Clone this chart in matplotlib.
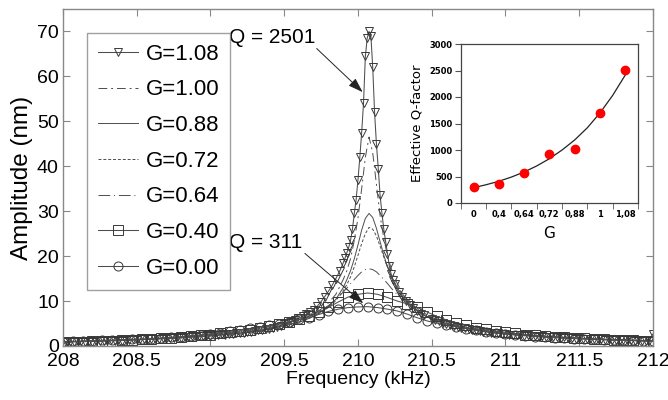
import numpy as np
import matplotlib
matplotlib.use('Agg')
import matplotlib.pyplot as plt
from matplotlib.font_manager import FontProperties

# ---- main chart data (amplitude in nm vs frequency in kHz) ----
# G=1.08 sweep: 0.025 kHz steps in the tails, finer steps around the resonance
f_108 = np.concatenate([np.linspace(208.0, 209.7, 69), np.linspace(209.725, 209.9, 8),
                        np.linspace(209.9125, 210.25, 28), np.linspace(210.275, 210.45, 8),
                        np.linspace(210.5, 212.0, 61)])
amp_108 = [0.3, 0.9, 0.8, 1.0, 0.9, 1.05, 0.95, 1.1, 1.0, 1.15, 1.05, 1.2, 1.1, 1.25, 1.15,
           1.3, 1.2, 1.35, 1.3, 1.45, 1.35, 1.5, 1.45, 1.6, 1.5, 1.65, 1.6, 1.75, 1.65, 1.85,
           1.75, 1.95, 1.85, 2.05, 1.95, 2.15, 2.05, 2.25, 2.2, 2.35,
           2.3, 2.45, 2.4, 2.6, 2.55, 2.7, 2.7, 2.85, 2.85, 3.0, 3.05, 3.2, 3.3, 3.45, 3.55,
           3.75, 3.85, 4.1, 4.25, 4.55, 4.8, 5.1, 5.4, 5.8, 6.2, 6.6, 7.1, 7.6, 8.1,
           8.9, 9.9, 11.0, 12.2, 13.5, 15.0, 16.6, 18.5,
           19.6, 20.8, 22.0, 23.6, 26.0, 29.5, 32.6, 37.0, 42.0, 47.5, 54.0, 64.5, 68.5, 70.0,
           69.0, 62.0, 52.0, 45.0, 39.5, 33.5, 29.5, 26.0, 23.2, 20.5, 17.8, 16.0, 14.7, 13.7,
           12.0, 11.0, 10.1, 9.2, 8.4, 7.8, 7.2, 6.8,
           6.1, 5.8, 5.5, 5.2, 4.9, 4.7, 4.5, 4.3, 4.1, 3.95, 3.8, 3.65, 3.5, 3.35, 3.2, 3.1,
           3.0, 2.9, 2.8, 2.75,
           2.65, 2.55, 2.55, 2.4, 2.45, 2.3, 2.35, 2.2, 2.25, 2.1, 2.15, 2.0, 2.05, 1.9, 1.95,
           1.8, 1.9, 1.75, 1.8, 1.65, 1.75, 1.6, 1.65, 1.5, 1.6, 1.45, 1.5, 1.4, 1.45, 1.35,
           1.4, 1.3, 1.35, 1.25, 1.3, 1.2, 1.25, 1.15, 1.2, 1.1,
           2.7]

# line-only curves share this frequency list
f_line = [208.0, 208.2, 208.4, 208.6, 208.8, 209.0, 209.2, 209.4,
          209.6, 209.65, 209.7, 209.75, 209.8, 209.85, 209.9,
          209.925, 209.95, 209.975, 210.0, 210.025, 210.05, 210.075, 210.1, 210.125,
          210.15, 210.175, 210.2, 210.225, 210.25,
          210.3, 210.35, 210.4, 210.45, 210.5, 210.55, 210.6,
          210.8, 211.0, 211.2, 211.4, 211.6, 211.8, 212.0]
amp_100 = [0.95, 1.1, 1.3, 1.55, 1.85, 2.3, 2.9, 3.8,
           5.6, 6.3, 7.1, 8.2, 9.6, 11.5, 14.8,
           16.8, 19.5, 23.5, 28.5, 35.0, 42.0, 46.5, 43.0, 36.0, 29.0, 24.0, 20.0, 17.3, 15.0,
           11.8, 9.6, 8.0, 6.9, 6.0, 5.4, 4.9,
           3.6, 2.8, 2.2, 1.8, 1.5, 1.3, 1.1]
amp_088 = [0.9, 1.05, 1.25, 1.5, 1.8, 2.2, 2.8, 3.7,
           5.3, 5.9, 6.6, 7.6, 8.8, 10.4, 13.0,
           14.8, 16.8, 19.4, 22.5, 25.8, 28.4, 29.5, 28.6, 26.2, 23.2, 20.2, 17.6, 15.5, 13.8,
           11.2, 9.3, 7.9, 6.8, 6.0, 5.4, 4.9,
           3.6, 2.8, 2.2, 1.8, 1.5, 1.25, 1.05]
amp_072 = [0.95, 1.1, 1.3, 1.55, 1.85, 2.3, 2.9, 3.8,
           5.3, 5.9, 6.6, 7.5, 8.6, 10.1, 12.3,
           13.7, 15.4, 17.6, 20.2, 22.8, 25.0, 26.4, 26.0, 24.5, 22.2, 19.8, 17.6, 15.7, 14.1,
           11.6, 9.8, 8.4, 7.3, 6.4, 5.7, 5.1,
           3.7, 2.9, 2.3, 1.9, 1.55, 1.3, 1.1]
amp_064 = [0.95, 1.1, 1.3, 1.55, 1.9, 2.4, 3.1, 4.1,
           5.8, 6.4, 7.1, 8.0, 9.0, 10.4, 12.0,
           12.9, 13.9, 14.8, 15.7, 16.5, 17.0, 17.2, 17.0, 16.5, 15.7, 14.8, 13.9, 12.9, 12.0,
           10.4, 9.05, 8.0, 7.1, 6.4, 5.8, 5.3,
           3.8, 2.9, 2.3, 1.9, 1.55, 1.3, 1.1]

# G=0.40 and G=0.00 sweeps (61 points, 208 to 212 kHz)
f_sweep = np.linspace(208.0, 212.0, 61)
amp_040 = [0.9, 0.95, 1.0, 1.05, 1.15, 1.2, 1.3, 1.35, 1.45, 1.55,
           1.7, 1.8, 1.95, 2.15, 2.35, 2.55, 2.8, 3.05, 3.3, 3.65,
           4.0, 4.4, 4.85, 5.3, 5.9, 6.6, 7.5, 8.6, 9.8, 10.9,
           11.5, 11.8, 11.5, 10.8, 10.0, 9.4, 8.6, 7.6, 6.6, 5.8,
           5.2, 4.7, 4.1, 3.7, 3.35, 3.05, 2.8, 2.55, 2.35, 2.2,
           2.05, 1.9, 1.8, 1.7, 1.6, 1.5, 1.42, 1.35, 1.25, 1.2, 1.1]
amp_000 = [1.0, 1.05, 1.1, 1.15, 1.25, 1.3, 1.4, 1.45, 1.55, 1.65,
           1.8, 1.95, 2.1, 2.3, 2.5, 2.75, 3.0, 3.25, 3.6, 3.9,
           4.25, 4.6, 5.0, 5.45, 5.9, 6.3, 7.0, 7.7, 8.2, 8.55,
           8.7, 8.75, 8.55, 8.2, 7.8, 7.1, 6.3, 5.6, 5.1, 4.65,
           4.25, 3.85, 3.5, 3.2, 2.9, 2.65, 2.45, 2.3, 2.1, 1.95,
           1.85, 1.75, 1.65, 1.6, 1.5, 1.4, 1.35, 1.3, 1.25, 1.2, 1.1]

x_ticks = [208, 208.5, 209, 209.5, 210, 210.5, 211, 211.5, 212]
x_ticklabels = ['208', '208.5', '209', '209.5', '210', '210.5', '211', '211.5', '212']
y_ticks = [0, 10, 20, 30, 40, 50, 60, 70]

# ---- inset data ----
g_labels = ['0', '0,4', '0,64', '0,72', '0,88', '1', '1,08']
q_values = [311, 353, 572, 925, 1019, 1692, 2501]
fit_pos = [0, 0.5, 1, 1.5, 2, 2.5, 3, 3.5, 4, 4.5, 5, 5.5, 6]
fit_q = [289, 345, 410, 490, 585, 700, 836, 1000, 1190, 1420, 1700, 2030, 2415]


def main():
    fig = plt.figure(figsize=(6.68, 4.0), dpi=100)
    ax = fig.add_axes([0.0943, 0.135, 0.8832, 0.8425])

    tickfont = FontProperties(family=['Liberation Sans', 'DejaVu Sans'], size=14)
    regular = FontProperties(family=['Liberation Sans', 'DejaVu Sans'], size=15)
    legfont = FontProperties(family=['Liberation Sans', 'DejaVu Sans'], size=16)

    col = '#4d4d4d'
    mk = dict(mfc='none', mec='#383838', mew=0.7)
    ax.plot(f_108, amp_108, color=col, lw=0.75, marker='v', ms=6, label='G=1.08', **mk)
    ax.plot(f_line, amp_100, color=col, lw=0.7, dashes=(9, 4, 2, 4), label='G=1.00')
    ax.plot(f_line, amp_088, color=col, lw=0.7, label='G=0.88')
    ax.plot(f_line, amp_072, color=col, lw=0.7, dashes=(3, 2), label='G=0.72')
    ax.plot(f_line, amp_064, color=col, lw=0.7, dashes=(12, 4, 1, 4), label='G=0.64')
    ax.plot(f_sweep, amp_040, color=col, lw=0.75, marker='s', ms=6.5, label='G=0.40', **mk)
    ax.plot(f_sweep, amp_000, color=col, lw=0.75, marker='o', ms=6.5, label='G=0.00', **mk)

    ax.set_xlim(208, 212)
    ax.set_ylim(0, 75)
    ax.set_xticks(x_ticks)
    ax.set_xticklabels(x_ticklabels, fontproperties=tickfont)
    ax.set_yticks(y_ticks)
    ax.set_yticklabels([str(v) for v in y_ticks], fontproperties=tickfont)
    ax.tick_params(direction='in', length=5, color='#888888', top=True, right=True, pad=3)
    ax.tick_params(axis='x', pad=5)
    for s in ax.spines.values():
        s.set_color('#888888')
        s.set_linewidth(1.0)
    ax.set_xlabel('Frequency (kHz)', fontproperties=tickfont, labelpad=1)
    ax.set_ylabel('Amplitude (nm)', fontproperties=FontProperties(
        family=['Liberation Sans', 'DejaVu Sans'], size=17.5), labelpad=3)

    leg = ax.legend(loc='upper left', bbox_to_anchor=(0.04, 0.93), borderaxespad=0,
                    prop=legfont, fancybox=False, edgecolor='#888888', handlelength=1.8,
                    labelspacing=0.66, borderpad=0.5, handletextpad=0.35)
    leg.get_frame().set_linewidth(1.0)

    # Q annotations
    ax.text(209.42, 68.7, 'Q = 2501', fontproperties=regular, ha='center', va='center')
    ax.annotate('', xy=(210.032, 56.5), xytext=(209.72, 66.2),
                arrowprops=dict(arrowstyle='-|>,head_length=0.9,head_width=0.3',
                                color='#222222', lw=0.7, shrinkA=0, shrinkB=0))
    ax.text(209.376, 23.1, 'Q = 311', fontproperties=regular, ha='center', va='center')
    ax.annotate('', xy=(210.036, 9.5), xytext=(209.64, 20.6),
                arrowprops=dict(arrowstyle='-|>,head_length=0.9,head_width=0.3',
                                color='#222222', lw=0.7, shrinkA=0, shrinkB=0))

    # inset: effective Q-factor vs G
    ins = fig.add_axes([0.690, 0.4925, 0.265, 0.3975])
    pos = np.arange(len(g_labels))
    ins.plot(fit_pos, fit_q, color='#222222', lw=0.9)
    ins.plot(pos, q_values, 'o', color='#ff0000', ms=6, mec='#ff0000')
    ins.set_xlim(-0.5, 6.5)
    ins.set_ylim(0, 3000)
    ins.set_xticks(pos)
    ins.set_xticklabels(g_labels, fontsize=6, fontweight='bold')
    ins.set_xticks(np.arange(-0.5, 7, 1), minor=True)
    ins.tick_params(axis='x', which='major', length=0, pad=5)
    ins.tick_params(axis='x', which='minor', length=4, color='#555555')
    ins.set_yticks([0, 500, 1000, 1500, 2000, 2500, 3000])
    ins.tick_params(axis='y', labelsize=6, length=4, color='#555555', pad=2)
    for lab in ins.get_yticklabels():
        lab.set_fontweight('bold')
    for s in ins.spines.values():
        s.set_color('#444444')
        s.set_linewidth(0.9)
    ins.set_ylabel('Effective Q-factor', fontsize=9.5, labelpad=4)
    ins.set_xlabel('G', fontsize=11, labelpad=5)

    fig.savefig('out.png', dpi=100)


if __name__ == '__main__':
    main()
